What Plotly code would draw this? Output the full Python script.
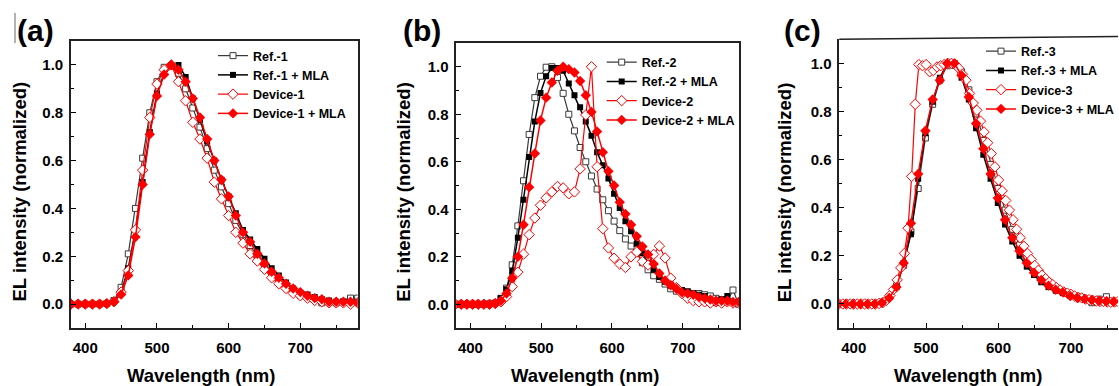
import plotly.graph_objects as go

# ---------------- Panel (a) ----------------
wl_a = list(range(380, 781, 10))
ref1 = [0, 0, 0, 0, 0, 0.002, 0.015, 0.07, 0.21, 0.40, 0.61, 0.80, 0.93, 0.99, 0.995,
        0.965, 0.90, 0.82, 0.74, 0.65, 0.56, 0.49, 0.42, 0.35, 0.29, 0.245, 0.20, 0.165,
        0.13, 0.10, 0.075, 0.05, 0.035, 0.03, 0.02, 0.005, 0.01, 0.005, 0.01, 0.025, 0.025]
ref1_mla = [0, 0, 0, 0, 0, 0.002, 0.01, 0.05, 0.15, 0.31, 0.51, 0.72, 0.88, 0.965, 0.995,
            1.0, 0.95, 0.86, 0.77, 0.68, 0.60, 0.52, 0.45, 0.38, 0.31, 0.27, 0.23, 0.19,
            0.15, 0.12, 0.09, 0.065, 0.045, 0.04, 0.03, 0.02, 0.015, 0.01, 0.01, 0.005, 0.01]
dev1 = [0, 0, 0, 0, 0, 0.002, 0.01, 0.05, 0.14, 0.31, 0.56, 0.78, 0.92, 0.98, 1.0,
        0.93, 0.85, 0.76, 0.69, 0.61, 0.51, 0.44, 0.37, 0.30, 0.255, 0.21, 0.18, 0.145,
        0.11, 0.085, 0.065, 0.045, 0.035, 0.025, 0.015, 0.01, 0.005, 0.005, 0.005, 0.0, 0.005]
dev1_mla = [0, 0, 0, 0, 0, 0.002, 0.01, 0.04, 0.12, 0.28, 0.50, 0.71, 0.87, 0.96, 1.0,
            0.98, 0.93, 0.86, 0.78, 0.69, 0.60, 0.52, 0.45, 0.37, 0.30, 0.26, 0.21, 0.17,
            0.135, 0.11, 0.085, 0.065, 0.05, 0.035, 0.025, 0.02, 0.01, 0.01, 0.01, 0.01, 0.005]

# ---------------- Panel (b) ----------------
wl_b = list(range(379, 780, 8))
ref2 = [0, 0, 0, 0, 0, 0, 0.002, 0.005, 0.025, 0.068, 0.166, 0.33, 0.52, 0.715, 0.87,
        0.96, 0.998, 1.0, 0.955, 0.888, 0.80, 0.73, 0.66, 0.60, 0.54, 0.485, 0.44, 0.394,
        0.35, 0.31, 0.275, 0.245, 0.215, 0.175, 0.145, 0.12, 0.105, 0.085, 0.065, 0.055,
        0.05, 0.05, 0.045, 0.045, 0.04, 0.035, 0.025, 0.02, 0.01, 0.06, 0.0]
ref2_mla = [0, 0, 0, 0, 0, 0, 0.002, 0.005, 0.025, 0.063, 0.14, 0.28, 0.44, 0.62, 0.77,
            0.89, 0.96, 0.995, 0.995, 0.983, 0.93, 0.88, 0.83, 0.77, 0.71, 0.64, 0.585, 0.53,
            0.465, 0.405, 0.35, 0.307, 0.255, 0.215, 0.175, 0.145, 0.115, 0.095, 0.078, 0.068,
            0.06, 0.055, 0.045, 0.04, 0.035, 0.005, 0.005, 0.02, 0.035, 0.01, 0.01]
dev2 = [0, 0, 0, 0, 0, 0, 0, 0.003, 0.01, 0.032, 0.074, 0.135, 0.211, 0.293, 0.363,
        0.417, 0.448, 0.473, 0.496, 0.49, 0.465, 0.473, 0.57, 0.797, 1.0, 0.579, 0.318, 0.237,
        0.194, 0.169, 0.155, 0.20, 0.22, 0.18, 0.165, 0.21, 0.245, 0.195, 0.11, 0.07,
        0.045, 0.025, 0.015, 0.01, 0.01, 0.005, 0.01, 0.005, 0.01, 0.005, 0.005]
dev2_mla = [0, 0, 0, 0, 0, 0, 0, 0.003, 0.015, 0.045, 0.11, 0.2, 0.335, 0.493, 0.635,
            0.774, 0.87, 0.934, 0.983, 1.0, 0.99, 0.976, 0.94, 0.88, 0.81, 0.727, 0.64, 0.56,
            0.5, 0.43, 0.38, 0.335, 0.286, 0.243, 0.21, 0.17, 0.13, 0.1, 0.08, 0.065,
            0.05, 0.045, 0.04, 0.03, 0.025, 0.02, 0.015, 0.015, 0.015, 0.01, 0.01]

# ---------------- Panel (c) ----------------
wl_c = list(range(379, 780, 10))
ref3 = [0, 0, 0, 0, 0, 0, 0.008, 0.03, 0.075, 0.16, 0.30, 0.48, 0.69, 0.83, 0.93,
        0.99, 1.0, 0.965, 0.89, 0.79, 0.68, 0.58, 0.48, 0.39, 0.31, 0.245, 0.19, 0.15,
        0.115, 0.085, 0.065, 0.05, 0.04, 0.03, 0.02, 0.005, 0.02, 0.03, 0.005, 0.01, 0.01]
ref3_mla = [0, 0, 0, 0, 0, 0, 0.008, 0.03, 0.07, 0.17, 0.29, 0.52, 0.71, 0.84, 0.94,
            1.0, 0.99, 0.94, 0.85, 0.73, 0.62, 0.52, 0.42, 0.33, 0.26, 0.2, 0.155, 0.12,
            0.09, 0.07, 0.055, 0.045, 0.035, 0.028, 0.02, 0.015, 0.015, 0.01, 0.01, 0.01, 0.01]
dev3_mla = [0, 0, 0, 0, 0, 0, 0.005, 0.025, 0.07, 0.17, 0.335, 0.54, 0.72, 0.85, 0.93,
            1.0, 1.0, 0.95, 0.86, 0.75, 0.645, 0.54, 0.44, 0.35, 0.275, 0.22, 0.17, 0.13,
            0.1, 0.076, 0.059, 0.048, 0.033, 0.025, 0.021, 0.017, 0.013, 0.011, 0.01, 0.01, 0.012]
wl_c_dev = list(range(380, 781, 5))
dev3 = [0, 0, 0, 0, 0, 0, 0, 0, 0, 0, 0, 0.002, 0.005, 0.015, 0.035, 0.06, 0.1, 0.15,
        0.21, 0.315, 0.53, 0.83, 0.995, 0.99, 0.995, 0.965, 0.97, 0.985, 0.99, 0.995, 1.0,
        1.0, 0.995, 0.98, 0.955, 0.93, 0.875, 0.835, 0.805, 0.76, 0.715, 0.67, 0.625, 0.57,
        0.515, 0.47, 0.43, 0.39, 0.35, 0.31, 0.275, 0.24, 0.21, 0.185, 0.16, 0.14, 0.12,
        0.105, 0.09, 0.08, 0.068, 0.058, 0.05, 0.045, 0.04, 0.033, 0.028, 0.025, 0.02,
        0.018, 0.015, 0.012, 0.01, 0.01, 0.008, 0.007, 0.008, 0.01, 0.012, 0.015, 0.02]

x_ticks = [400, 500, 600, 700]
y_ticks = [0.0, 0.2, 0.4, 0.6, 0.8, 1.0]

W, H = 1119, 386
FONT = "Liberation Sans"


def px_x(p):
    return p / W


def px_y(p):
    return 1 - p / H


fig = go.Figure()

panels = [
    dict(xa="x", ya="y", leg="legend", wl=[wl_a, wl_a, wl_a, wl_a],
         ys=[ref1, ref1_mla, dev1, dev1_mla],
         names=["Ref.-1", "Ref.-1 + MLA", "Device-1", "Device-1 + MLA"]),
    dict(xa="x2", ya="y2", leg="legend2", wl=[wl_b, wl_b, wl_b, wl_b],
         ys=[ref2, ref2_mla, dev2, dev2_mla],
         names=["Ref.-2", "Ref.-2 + MLA", "Device-2", "Device-2 + MLA"]),
    dict(xa="x3", ya="y3", leg="legend3", wl=[wl_c, wl_c, wl_c_dev, wl_c],
         ys=[ref3, ref3_mla, dev3, dev3_mla],
         names=["Ref.-3", "Ref.-3 + MLA", "Device-3", "Device-3 + MLA"]),
]

styles = [
    dict(line=dict(color="#3a3a3a", width=1.2),
         marker=dict(symbol="square", size=6, color="white", line=dict(color="#3a3a3a", width=1))),
    dict(line=dict(color="black", width=1.5),
         marker=dict(symbol="square", size=6, color="black", line=dict(color="black", width=0))),
    dict(line=dict(color="#ff0000", width=1.2),
         marker=dict(symbol="diamond", size=8, color="white", line=dict(color="#ff0000", width=1))),
    dict(line=dict(color="#ff0000", width=1.5),
         marker=dict(symbol="diamond", size=8, color="#ff0000", line=dict(color="#ff0000", width=0))),
]

for p in panels:
    for wl, y, name, st in zip(p["wl"], p["ys"], p["names"], styles):
        fig.add_trace(go.Scatter(x=wl, y=y, name=name, mode="lines+markers",
                                 line=st["line"], marker=st["marker"],
                                 xaxis=p["xa"], yaxis=p["ya"], legend=p["leg"]))

tickfont = dict(family=FONT, size=15, color="black", weight="bold")

xdoms = [[px_x(71), px_x(358)], [px_x(456.7), px_x(740)], [px_x(840), 1.0]]
ydoms = [[px_y(328), px_y(41)], [px_y(328), px_y(43)], [px_y(328), px_y(39.3)]]
xranges = [[380, 780], [380, 780], [380, 765]]
mirrors = [True, True, False]

for i in range(3):
    sfx = "" if i == 0 else str(i + 1)
    fig.update_layout(**{
        "xaxis" + sfx: dict(domain=xdoms[i], range=xranges[i], anchor="y" + sfx,
                            tickvals=x_ticks, ticks="inside", ticklen=5, tickwidth=1.2,
                            tickcolor="black",
                            minor=dict(dtick=50, tick0=0, ticks="inside", ticklen=3,
                                       tickcolor="black", tickwidth=1),
                            showline=True, linecolor="#222", linewidth=1.5,
                            mirror=mirrors[i], showgrid=False, zeroline=False,
                            tickfont=tickfont, ticklabelstandoff=5),
        "yaxis" + sfx: dict(domain=ydoms[i], range=[-0.1, 1.1], anchor="x" + sfx,
                            tickvals=y_ticks, tickformat=".1f", ticks="inside", ticklen=5,
                            tickwidth=1.2, tickcolor="black",
                            minor=dict(dtick=0.1, tick0=0, ticks="inside", ticklen=3,
                                       tickcolor="black", tickwidth=1),
                            showline=True, linecolor="#222", linewidth=1.5,
                            mirror=mirrors[i], showgrid=False, zeroline=False,
                            tickfont=tickfont, ticklabelstandoff=3),
    })

legfont = dict(family=FONT, size=12.5, color="black", weight="bold")
leg_common = dict(font=legfont, bgcolor="rgba(0,0,0,0)", xanchor="left", yanchor="top",
                  itemwidth=30, tracegroupgap=0, borderwidth=0)
fig.update_layout(
    legend=dict(x=px_x(213), y=px_y(41), **leg_common),
    legend2=dict(x=px_x(601.7), y=px_y(47.5), **leg_common),
    legend3=dict(x=px_x(982.3), y=px_y(36.5), **leg_common),
)

ann = []
title_font = dict(family=FONT, size=18.5, color="black", weight="bold")
for xc, yc in [(19.5, 191), (404.5, 191.7), (785.5, 192.5)]:
    ann.append(dict(text="EL intensity (normalized)", x=px_x(xc), y=px_y(yc), xref="paper",
                    yref="paper", textangle=-90, showarrow=False, xanchor="center",
                    yanchor="middle", font=title_font))
for xc in [201, 586, 969]:
    ann.append(dict(text="Wavelength (nm)", x=px_x(xc), y=px_y(375.5), xref="paper",
                    yref="paper", showarrow=False, xanchor="center", yanchor="middle",
                    font=title_font))
for lab, xc, yc in [("(a)", 36, 30), ("(b)", 422.5, 31), ("(c)", 803.5, 31)]:
    ann.append(dict(text=lab, x=px_x(xc), y=px_y(yc), xref="paper", yref="paper",
                    showarrow=False, xanchor="center", yanchor="middle",
                    font=dict(family=FONT, size=30, color="black", weight="bold")))

shapes = [
    # slanted top border of panel (c) as in the scanned original
    dict(type="line", xref="paper", yref="paper", x0=px_x(840), y0=px_y(39.3), x1=1.0,
         y1=px_y(36.5), line=dict(color="#222", width=1.5)),
    # thin vertical scan line left of (a)
    dict(type="line", xref="paper", yref="paper", x0=px_x(15), y0=px_y(13), x1=px_x(15),
         y1=px_y(43), line=dict(color="#666", width=1)),
]

fig.update_layout(width=W, height=H, margin=dict(l=0, r=0, t=0, b=0),
                  paper_bgcolor="white", plot_bgcolor="white",
                  annotations=ann, shapes=shapes, showlegend=True,
                  font=dict(family=FONT, color="black"))

fig.write_html("out.html", config={"displayModeBar": False},
               post_script="document.body.style.margin='0px';"
                           "document.body.style.overflow='hidden';")
